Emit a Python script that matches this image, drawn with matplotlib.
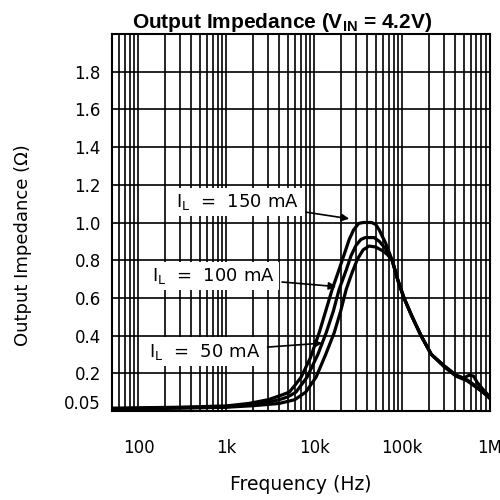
import matplotlib
matplotlib.use("Agg")
import matplotlib.pyplot as plt
from matplotlib.ticker import LogLocator, NullFormatter

# -----------------------------
# Daten
# -----------------------------
freq_150 = [50, 100, 300, 1000, 1800, 3000, 4000, 5200, 6000, 7100, 9000, 11400,
            13500, 16000, 19000, 21900, 25000, 28000, 32000, 36000, 45000, 50000,
            55000, 65000, 77000, 90000, 105000, 130000, 164000, 215000, 300000,
            410000, 550000, 700000, 850000, 1000000]
z_150 = [0.015, 0.017, 0.02, 0.027, 0.04, 0.06, 0.08, 0.1, 0.135, 0.18, 0.28,
         0.416, 0.53, 0.645, 0.745, 0.83, 0.91, 0.96, 0.995, 1.0, 1.0, 0.99, 0.96,
         0.89, 0.8, 0.69, 0.6, 0.5, 0.4, 0.3, 0.24, 0.19, 0.165, 0.13, 0.1, 0.07]

freq_100 = [50, 100, 300, 1000, 2600, 4000, 5000, 6200, 8300, 11000, 13700,
            16500, 19200, 23000, 26300, 30000, 34000, 38000, 48000, 55000, 65000,
            77000, 90000, 105000, 130000, 164000, 215000, 300000, 410000, 550000,
            700000, 850000, 1000000]
z_100 = [0.012, 0.014, 0.018, 0.022, 0.04, 0.06, 0.075, 0.1, 0.18, 0.3, 0.416,
         0.53, 0.645, 0.745, 0.825, 0.88, 0.91, 0.92, 0.92, 0.9, 0.86, 0.8, 0.69,
         0.6, 0.5, 0.4, 0.3, 0.235, 0.185, 0.16, 0.125, 0.095, 0.065]

freq_50 = [50, 100, 300, 1000, 2000, 4000, 6000, 8000, 10500, 13500, 16900,
           20000, 23100, 27000, 31000, 36000, 42000, 50000, 60000, 68000, 77000,
           90000, 105000, 130000, 164000, 215000, 300000, 410000, 500000, 580000,
           650000, 720000, 850000, 1000000]
z_50 = [0.01, 0.012, 0.015, 0.02, 0.028, 0.04, 0.06, 0.1, 0.18, 0.3, 0.416,
        0.53, 0.645, 0.735, 0.805, 0.855, 0.875, 0.87, 0.85, 0.83, 0.8, 0.69, 0.6,
        0.5, 0.4, 0.3, 0.24, 0.19, 0.175, 0.19, 0.185, 0.15, 0.11, 0.075]

x_ticks = [100, 1000, 10000, 100000, 1000000]
x_tick_labels = ["100", "1k", "10k", "100k", "1M"]
y_ticks = [0.05, 0.2, 0.4, 0.6, 0.8, 1.0, 1.2, 1.4, 1.6, 1.8]
y_tick_labels = ["0.05", "0.2", "0.4", "0.6", "0.8", "1.0", "1.2", "1.4", "1.6", "1.8"]
y_grid = [0.2, 0.4, 0.6, 0.8, 1.0, 1.2, 1.4, 1.6, 1.8]

# (Text, Textposition, Pfeilziel)
beschriftungen = [
    (r"I$_\mathregular{L}$  =  150 mA", (270, 1.11), (25000, 1.02)),
    (r"I$_\mathregular{L}$  =  100 mA", (144, 0.715), (17800, 0.66)),
    (r"I$_\mathregular{L}$  =  50 mA", (133, 0.315), (12300, 0.36)),
]

# -----------------------------
# Zeichnen
# -----------------------------
plt.rcParams["mathtext.fontset"] = "custom"
plt.rcParams["mathtext.rm"] = "DejaVu Sans"
plt.rcParams["mathtext.bf"] = "Liberation Sans:bold"

fig, ax = plt.subplots(figsize=(5, 5), dpi=100)
fig.subplots_adjust(left=0.224, right=0.98, bottom=0.178, top=0.932)

ax.set_xscale("log")
ax.set_xlim(50, 1e6)
ax.set_ylim(0, 2.0)

ax.xaxis.set_major_locator(LogLocator(base=10))
ax.xaxis.set_minor_locator(LogLocator(base=10, subs=range(2, 10), numticks=20))
ax.xaxis.set_minor_formatter(NullFormatter())
ax.set_xticks(x_ticks)
ax.set_xticklabels(x_tick_labels)
ax.set_yticks(y_ticks)
ax.set_yticklabels(y_tick_labels)
ax.tick_params(which="both", length=0, labelsize=12)
ax.tick_params(axis="x", pad=20)
ax.tick_params(axis="y", pad=8)

ax.grid(True, which="both", axis="x", color="black", linewidth=1.2)
for y in y_grid:
    ax.axhline(y, color="black", linewidth=1.2, zorder=1)
ax.set_axisbelow(True)

for s in ax.spines.values():
    s.set_linewidth(1.5)

for f, z in [(freq_150, z_150), (freq_100, z_100), (freq_50, z_50)]:
    ax.plot(f, z, color="black", linewidth=2.3, zorder=3)

for txt, pos, ziel in beschriftungen:
    ax.annotate(txt, xy=ziel, xytext=pos, fontsize=13, va="center", ha="left",
                bbox=dict(facecolor="white", edgecolor="none", pad=3),
                arrowprops=dict(arrowstyle="-|>", color="black", lw=1.2,
                                mutation_scale=11, shrinkA=2, shrinkB=0),
                zorder=4)

ax.set_title(r"Output Impedance (V$_\mathbf{IN}$ = 4.2V)", fontsize=15,
             fontweight="bold", family="Liberation Sans", x=0.45, pad=1)
ax.set_xlabel("Frequency (Hz)", fontsize=13.5)
ax.xaxis.set_label_coords(0.5, -0.17)
ax.set_ylabel("Output Impedance (Ω)", fontsize=13)
ax.yaxis.set_label_coords(-0.212, 0.44)

fig.savefig("out.png", dpi=100)
